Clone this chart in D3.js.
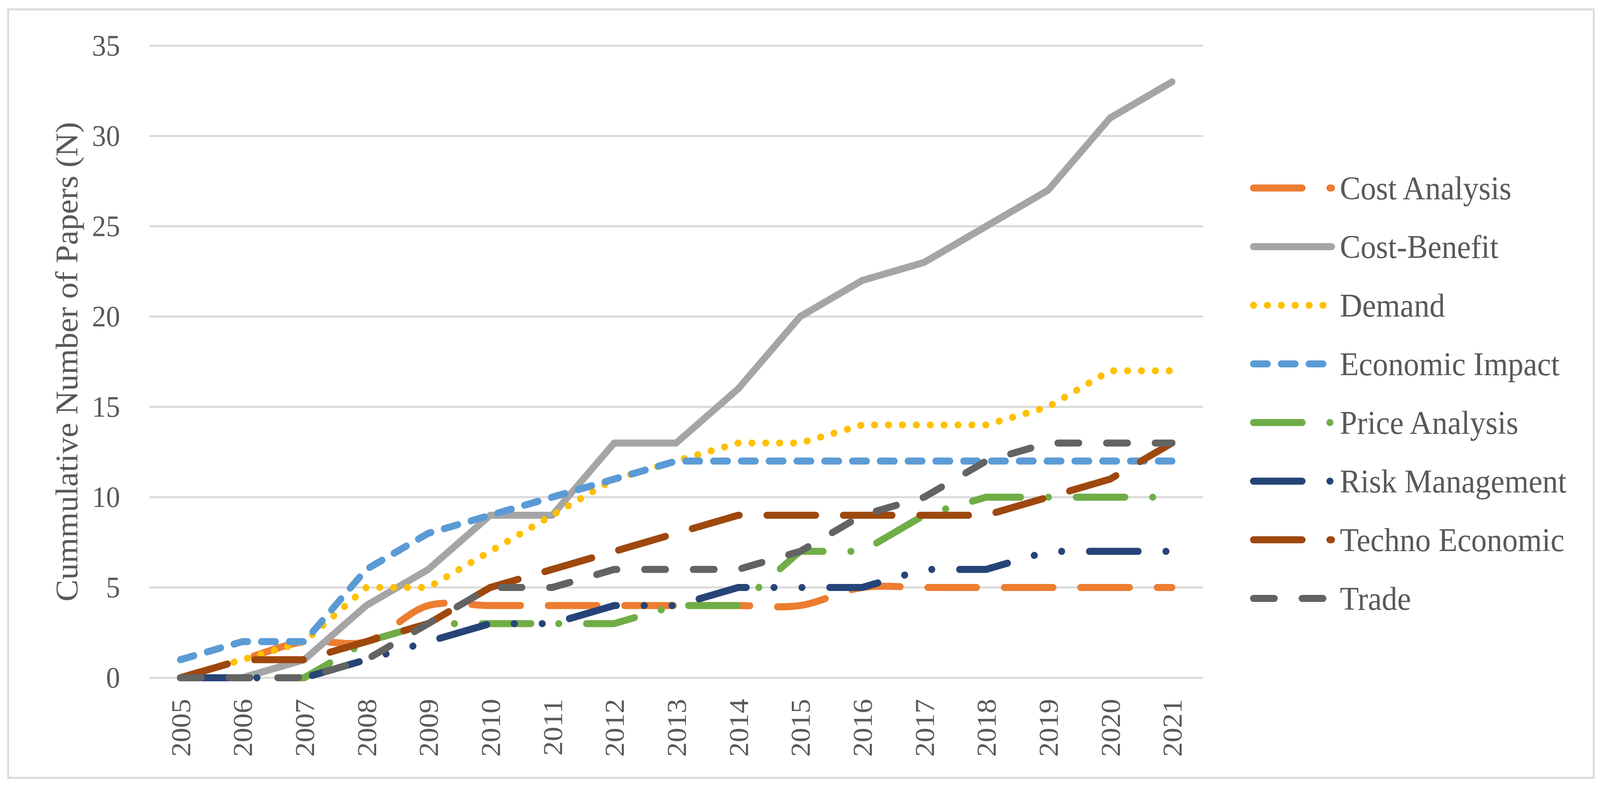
<!DOCTYPE html>
<html>
<head>
  <meta charset="utf-8">
  <script src="https://d3js.org/d3.v7.min.js"></script>
  <style>
    html, body { margin: 0; padding: 0; background: #ffffff; overflow: hidden; }
    svg { display: block; width: 100vw; height: 100vh; }
    text { font-family: "Liberation Serif", "DejaVu Serif", serif; fill: #595959; }
  </style>
</head>
<body>
<script>
  // years on the category axis
  var years = ["2005", "2006", "2007", "2008", "2009", "2010", "2011", "2012", "2013",
               "2014", "2015", "2016", "2017", "2018", "2019", "2020", "2021"];

  // cumulative number of papers, one array per series
  var costAnalysis   = [0, 1, 2, 2, 4, 4, 4, 4, 4, 4, 4, 5, 5, 5, 5, 5, 5];
  var costBenefit    = [0, 0, 1, 4, 6, 9, 9, 13, 13, 16, 20, 22, 23, 25, 27, 31, 33];
  var demand         = [0, 1, 2, 5, 5, 7, 9, 11, 12, 13, 13, 14, 14, 14, 15, 17, 17];
  var economicImpact = [1, 2, 2, 6, 8, 9, 10, 11, 12, 12, 12, 12, 12, 12, 12, 12, 12];
  var priceAnalysis  = [0, 0, 0, 2, 3, 3, 3, 3, 4, 4, 7, 7, 9, 10, 10, 10, 10];
  var riskManagement = [0, 0, 0, 1, 2, 3, 3, 4, 4, 5, 5, 5, 6, 6, 7, 7, 7];
  var technoEconomic = [0, 1, 1, 2, 3, 5, 6, 7, 8, 9, 9, 9, 9, 9, 10, 11, 13];
  var trade          = [0, 0, 0, 1, 3, 5, 5, 6, 6, 6, 7, 9, 10, 12, 13, 13, 13];

  var seriesNames = ["Cost Analysis", "Cost-Benefit", "Demand", "Economic Impact",
                     "Price Analysis", "Risk Management", "Techno Economic", "Trade"];
  var yTicks = [0, 5, 10, 15, 20, 25, 30, 35];

  // Office dash styles, round caps (w = line width, u = dash unit)
  var w = 18, u = 18.8;
  var dashes = {
    solid: null,
    sysDot: [1, 2 * u - 1],
    sysDash: [3 * u - w, u + w],
    dash: [4 * u - w, 3 * u + w],
    lgDash: [8 * u - w, 3 * u + w],
    lgDashDot: [8 * u - w, 3 * u + w, 1, 3 * u + w],
    lgDashDotDot: [8 * u - w, 3 * u + w, 1, 3 * u + w, 1, 3 * u + w]
  };

  var series = [
    {name: seriesNames[0], values: costAnalysis,   color: "#ED7D31", dash: "lgDash", smooth: true},
    {name: seriesNames[1], values: costBenefit,    color: "#A5A5A5", dash: "solid"},
    {name: seriesNames[2], values: demand,         color: "#FFC000", dash: "sysDot"},
    {name: seriesNames[3], values: economicImpact, color: "#5B9BD5", dash: "sysDash"},
    {name: seriesNames[4], values: priceAnalysis,  color: "#70AD47", dash: "lgDashDot"},
    {name: seriesNames[5], values: riskManagement, color: "#264478", dash: "lgDashDotDot"},
    {name: seriesNames[6], values: technoEconomic, color: "#9E480E", dash: "lgDash"},
    {name: seriesNames[7], values: trade,          color: "#636363", dash: "dash"}
  ];

  var W = 4329, H = 2016;
  var plot = {left: 404, right: 3255, top: 117, bottom: 1734};

  // drawn in a fixed 4329x2016 box, stretched to whatever the window really is
  var svg = d3.select("body").append("svg")
    .attr("viewBox", "0 0 " + W + " " + H)
    .attr("preserveAspectRatio", "none");

  svg.append("rect")
    .attr("width", W).attr("height", H)
    .style("fill", "#ffffff");

  // outer chart border
  svg.append("rect")
    .attr("x", 22).attr("y", 24)
    .attr("width", 4290).attr("height", 1966)
    .style("fill", "none")
    .style("stroke", "#D9D9D9")
    .style("stroke-width", 5);

  var x = d3.scalePoint()
    .domain(years)
    .range([plot.left, plot.right])
    .padding(0.5);

  var y = d3.scaleLinear()
    .domain([0, 35])
    .range([plot.bottom, plot.top]);

  // horizontal gridlines
  svg.append("g")
    .selectAll("line")
    .data(yTicks)
    .enter()
    .append("line")
      .attr("x1", plot.left)
      .attr("x2", plot.right)
      .attr("y1", function (d) { return y(d); })
      .attr("y2", function (d) { return y(d); })
      .style("stroke", "#D9D9D9")
      .style("stroke-width", 5);

  // y axis (labels only)
  var yAxis = svg.append("g")
    .attr("transform", "translate(325,0)")
    .call(d3.axisLeft(y).tickValues(yTicks).tickSize(0).tickPadding(0));
  yAxis.select(".domain").remove();
  yAxis.selectAll("text")
    .style("font-size", "76px")
    .style("fill", "#595959")
    .style("font-family", "Liberation Serif, serif");

  // x axis labels, rotated
  var xAxis = svg.append("g")
    .attr("transform", "translate(0," + plot.bottom + ")")
    .call(d3.axisBottom(x).tickSize(0).tickPadding(0));
  xAxis.select(".domain").remove();
  xAxis.selectAll("text")
    .attr("transform", "rotate(-90)")
    .attr("x", -54)
    .attr("y", 0)
    .attr("dy", "0.35em")
    .style("text-anchor", "end")
    .style("font-size", "74px")
    .style("fill", "#595959")
    .style("font-family", "Liberation Serif, serif");

  // y axis title
  svg.append("text")
    .attr("transform", "translate(180," + ((plot.top + plot.bottom) / 2) + ") rotate(-90)")
    .attr("dy", "0.35em")
    .style("text-anchor", "middle")
    .style("font-size", "84px")
    .text("Cummulative Number of Papers (N)");

  // the lines, first series at the bottom
  series.forEach(function (s) {
    var line = d3.line()
      .x(function (d, i) { return x(years[i]); })
      .y(function (d) { return y(d); })
      .curve(s.smooth ? d3.curveCatmullRom.alpha(0.5) : d3.curveLinear);

    svg.append("path")
      .datum(s.values)
      .attr("d", line)
      .style("fill", "none")
      .style("stroke", s.color)
      .style("stroke-width", w)
      .style("stroke-linecap", "round")
      .style("stroke-linejoin", "round")
      .style("stroke-dasharray", dashes[s.dash] ? dashes[s.dash].join(",") : null);
  });

  // legend
  var legend = svg.append("g");
  var rows = legend.selectAll("g")
    .data(series)
    .enter()
    .append("g")
      .attr("transform", function (d, i) { return "translate(0," + (481 + i * 150) + ")"; });

  rows.append("line")
    .attr("x1", 3391).attr("x2", 3603)
    .attr("y1", 0).attr("y2", 0)
    .style("stroke", function (d) { return d.color; })
    .style("stroke-width", w)
    .style("stroke-linecap", "round")
    .style("stroke-dasharray", function (d) { return dashes[d.dash] ? dashes[d.dash].join(",") : null; });

  rows.append("text")
    .attr("x", 3625)
    .attr("dy", "0.35em")
    .style("font-size", "84px")
    .text(function (d) { return d.name; });
</script>
</body>
</html>
